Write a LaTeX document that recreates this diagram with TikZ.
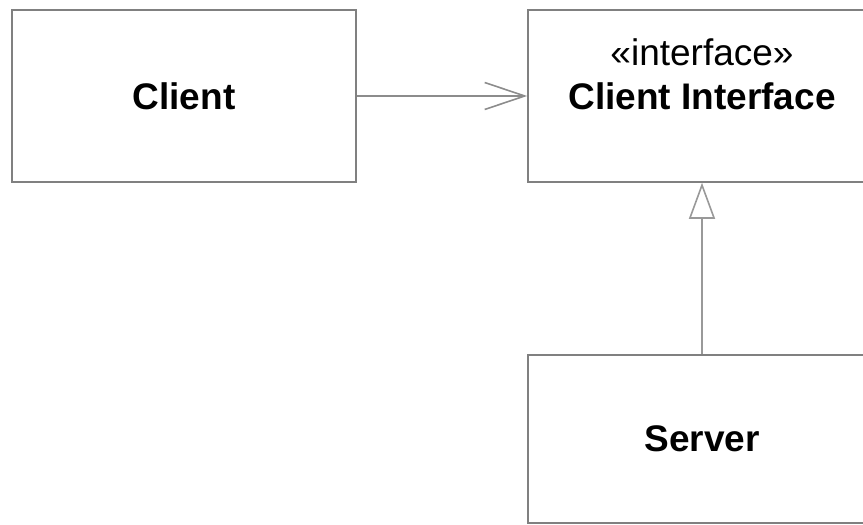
\documentclass[tikz,border=0pt]{standalone}
\usepackage{fontspec}
\setmainfont{Liberation Sans}
\usetikzlibrary{arrows.meta,positioning}

\begin{document}
\begin{tikzpicture}[x=1pt,y=1pt,>=Latex,
  classbox/.style={draw=black!50,line width=1.6pt,minimum width=344pt,minimum height=172pt,inner sep=0pt,font=\fontsize{37}{44}\selectfont\bfseries},
  assoc/.style={draw=black!45,line width=1.6pt,-{Straight Barb[length=40pt,width=27pt,line width=1.6pt]}},
  realize/.style={draw=black!40,line width=1.6pt,-{Triangle[open,length=36pt,width=26pt,line width=1.6pt]}}]
\useasboundingbox (0,0) rectangle (863,525);
\clip (0,0) rectangle (863,525);
\node[classbox] (client) at (184,429) {Client};
\node[classbox,minimum width=348pt] (iface) at (702,429) {Client Interface};
\node[font=\fontsize{37}{44}\selectfont,anchor=base,inner sep=0pt] (iface_st) at ([yshift=44pt]iface.base) {«interface»};
\node[classbox,minimum width=348pt,minimum height=168pt] (server) at (702,86) {Server};
\draw[assoc] (client.east)--(iface.west);
\draw[realize] (server.north)--(iface.south);
\end{tikzpicture}
\end{document}
